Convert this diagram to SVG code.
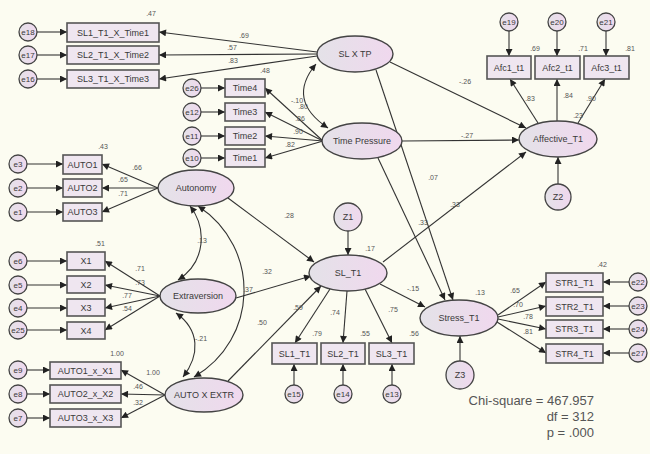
<svg xmlns="http://www.w3.org/2000/svg" width="650" height="454" viewBox="0 0 650 454">
<defs>
<linearGradient id="lg" x1="0" y1="0" x2="1" y2="0"><stop offset="0" stop-color="#e4e2e8"/><stop offset="1" stop-color="#f0d8ee"/></linearGradient>
<style>
.bg{fill:#fcfcf1}
.box{fill:#efe6f0;stroke:#555;stroke-width:1.6}
.lat{fill:url(#lg);stroke:#444;stroke-width:1.4}
.err{fill:url(#lg);stroke:#444;stroke-width:1.3}
.t{font-family:"Liberation Sans",Arial,sans-serif;font-size:9px;fill:#3a3a3a;text-anchor:middle;dominant-baseline:central}
.te{font-family:"Liberation Sans",Arial,sans-serif;font-size:8px;fill:#3a3a3a;text-anchor:middle;dominant-baseline:central}
.n{font-family:"Liberation Sans",Arial,sans-serif;font-size:7px;fill:#555;text-anchor:middle}
.fit{font-family:"Liberation Sans",Arial,sans-serif;font-size:13px;fill:#555;text-anchor:end}
.c{stroke:#333;stroke-width:1.1;fill:none}
.a{marker-end:url(#ah)}
.b{marker-start:url(#ah);marker-end:url(#ah)}
</style>
<marker id="ah" viewBox="0 0 10 10" refX="10" refY="5" markerWidth="10" markerHeight="7" markerUnits="userSpaceOnUse" orient="auto-start-reverse"><path d="M0,0 L10,5 L0,10 z" fill="#222"/></marker>
</defs>
<rect class="bg" x="0" y="0" width="650" height="454"/>

<g id="connectors">
<line class="c a" x1="317" y1="52" x2="159" y2="32"/>
<line class="c a" x1="317" y1="54" x2="159" y2="55"/>
<line class="c a" x1="317" y1="56" x2="159" y2="79"/>
<line class="c a" x1="390" y1="62" x2="526" y2="128"/>
<line class="c a" x1="376" y1="70" x2="453" y2="300"/>
<line class="c a" x1="323" y1="141" x2="265" y2="88"/>
<line class="c a" x1="323" y1="141" x2="265" y2="112"/>
<line class="c a" x1="323" y1="141" x2="265" y2="136"/>
<line class="c a" x1="323" y1="141" x2="265" y2="158"/>
<line class="c a" x1="402" y1="141" x2="519" y2="140"/>
<line class="c a" x1="378" y1="158" x2="445" y2="300"/>
<path class="c b" d="M316,64 Q286,100 328,128"/>
<line class="c a" x1="158" y1="188" x2="102" y2="164"/>
<line class="c a" x1="158" y1="188" x2="102" y2="188"/>
<line class="c a" x1="158" y1="188" x2="102" y2="212"/>
<line class="c a" x1="228" y1="198" x2="314" y2="262"/>
<line class="c a" x1="160" y1="296" x2="105" y2="261"/>
<line class="c a" x1="160" y1="296" x2="105" y2="285"/>
<line class="c a" x1="160" y1="296" x2="105" y2="308"/>
<line class="c a" x1="160" y1="296" x2="105" y2="330"/>
<line class="c a" x1="236" y1="298" x2="311" y2="276"/>
<line class="c a" x1="165" y1="395" x2="121" y2="370"/>
<line class="c a" x1="165" y1="395" x2="121" y2="394"/>
<line class="c a" x1="165" y1="395" x2="121" y2="418"/>
<line class="c a" x1="228" y1="381" x2="321" y2="286"/>
<path class="c b" d="M190,206 C207,228 206,262 178,280"/>
<path class="c b" d="M198,206 C262,248 258,340 194,377"/>
<path class="c b" d="M176,313 C200,330 200,355 183,377"/>
<line class="c a" x1="330" y1="289" x2="295" y2="343"/>
<line class="c a" x1="347" y1="291" x2="343" y2="343"/>
<line class="c a" x1="365" y1="289" x2="392" y2="343"/>
<line class="c a" x1="380" y1="284" x2="425" y2="307"/>
<line class="c a" x1="383" y1="262" x2="526" y2="152"/>
<line class="c a" x1="348" y1="231" x2="348" y2="255"/>
<line class="c a" x1="498" y1="315" x2="546" y2="282"/>
<line class="c a" x1="498" y1="317" x2="546" y2="306"/>
<line class="c a" x1="498" y1="319" x2="546" y2="329"/>
<line class="c a" x1="497" y1="322" x2="546" y2="353"/>
<line class="c a" x1="460" y1="361" x2="460" y2="336"/>
<line class="c a" x1="538" y1="123" x2="510" y2="79"/>
<line class="c a" x1="557" y1="121" x2="557" y2="79"/>
<line class="c a" x1="578" y1="123" x2="605" y2="79"/>
<line class="c a" x1="558" y1="184" x2="558" y2="157"/>
<line class="c a" x1="37" y1="32" x2="67" y2="32"/>
<line class="c a" x1="37" y1="55" x2="67" y2="55"/>
<line class="c a" x1="37" y1="79" x2="67" y2="79"/>
<line class="c a" x1="201" y1="88" x2="225" y2="88"/>
<line class="c a" x1="201" y1="112" x2="225" y2="112"/>
<line class="c a" x1="201" y1="136" x2="225" y2="136"/>
<line class="c a" x1="201" y1="158" x2="225" y2="158"/>
<line class="c a" x1="27" y1="164" x2="63" y2="164"/>
<line class="c a" x1="27" y1="188" x2="63" y2="188"/>
<line class="c a" x1="27" y1="212" x2="63" y2="212"/>
<line class="c a" x1="27" y1="261" x2="67" y2="261"/>
<line class="c a" x1="27" y1="285" x2="67" y2="285"/>
<line class="c a" x1="27" y1="308" x2="67" y2="308"/>
<line class="c a" x1="27" y1="330" x2="67" y2="330"/>
<line class="c a" x1="27" y1="370" x2="50" y2="370"/>
<line class="c a" x1="27" y1="394" x2="50" y2="394"/>
<line class="c a" x1="27" y1="418" x2="50" y2="418"/>
<line class="c a" x1="294" y1="385" x2="294" y2="364"/>
<line class="c a" x1="343" y1="385" x2="343" y2="364"/>
<line class="c a" x1="392" y1="385" x2="392" y2="364"/>
<line class="c a" x1="629" y1="282" x2="603" y2="282"/>
<line class="c a" x1="629" y1="306" x2="603" y2="306"/>
<line class="c a" x1="629" y1="329" x2="603" y2="329"/>
<line class="c a" x1="629" y1="353" x2="603" y2="353"/>
<line class="c a" x1="509" y1="31" x2="509" y2="56"/>
<line class="c a" x1="557" y1="31" x2="557" y2="56"/>
<line class="c a" x1="606" y1="31" x2="606" y2="56"/>
</g>

<g id="path-labels">
<text class="n" x="244" y="38">.69</text>
<text class="n" x="232" y="50">.57</text>
<text class="n" x="233" y="63">.83</text>
<text class="n" x="265" y="73">.48</text>
<text class="n" x="297" y="103">-.10</text>
<text class="n" x="303" y="109">.80</text>
<text class="n" x="300" y="121">.86</text>
<text class="n" x="298" y="134">.90</text>
<text class="n" x="290" y="147">.82</text>
<text class="n" x="465" y="84">-.26</text>
<text class="n" x="467" y="138">-.27</text>
<text class="n" x="433" y="180">.07</text>
<text class="n" x="423" y="225">.33</text>
<text class="n" x="455" y="207">.33</text>
<text class="n" x="535" y="51">.69</text>
<text class="n" x="583" y="51">.71</text>
<text class="n" x="630" y="51">.81</text>
<text class="n" x="530" y="101">.83</text>
<text class="n" x="568" y="98">.84</text>
<text class="n" x="591" y="101">.90</text>
<text class="n" x="578" y="118">.23</text>
<text class="n" x="151" y="16">.47</text>
<text class="n" x="103" y="149">.43</text>
<text class="n" x="137" y="170">.66</text>
<text class="n" x="123" y="182">.65</text>
<text class="n" x="123" y="196">.71</text>
<text class="n" x="100" y="246">.51</text>
<text class="n" x="140" y="271">.71</text>
<text class="n" x="140" y="285">.73</text>
<text class="n" x="127" y="298">.77</text>
<text class="n" x="127" y="311">.54</text>
<text class="n" x="202" y="243">.13</text>
<text class="n" x="201" y="341">-.21</text>
<text class="n" x="248" y="292">.37</text>
<text class="n" x="289" y="218">.28</text>
<text class="n" x="267" y="274">.32</text>
<text class="n" x="262" y="325">.50</text>
<text class="n" x="298" y="310">.59</text>
<text class="n" x="335" y="315">.74</text>
<text class="n" x="393" y="312">.75</text>
<text class="n" x="413" y="291">-.15</text>
<text class="n" x="370" y="251">.17</text>
<text class="n" x="317" y="336">.79</text>
<text class="n" x="365" y="336">.55</text>
<text class="n" x="414" y="336">.56</text>
<text class="n" x="117" y="356">1.00</text>
<text class="n" x="153" y="375">1.00</text>
<text class="n" x="138" y="389">.46</text>
<text class="n" x="138" y="405">.32</text>
<text class="n" x="480" y="295">.13</text>
<text class="n" x="602" y="267">.42</text>
<text class="n" x="515" y="293">.65</text>
<text class="n" x="518" y="307">.70</text>
<text class="n" x="528" y="319">.78</text>
<text class="n" x="528" y="334">.81</text>
</g>

<g id="SL1_T1_X_Time1"><rect class="box" x="67" y="23" width="92" height="19"/><text class="t" x="113" y="32.5">SL1_T1_X_Time1</text></g>
<g id="SL2_T1_X_Time2"><rect class="box" x="67" y="46" width="92" height="18"/><text class="t" x="113" y="55">SL2_T1_X_Time2</text></g>
<g id="SL3_T1_X_Time3"><rect class="box" x="67" y="70" width="92" height="18"/><text class="t" x="113" y="79">SL3_T1_X_Time3</text></g>
<g id="e18"><circle class="err" cx="28" cy="32" r="9"/><text class="te" x="28" y="32">e18</text></g>
<g id="e17"><circle class="err" cx="28" cy="55" r="9"/><text class="te" x="28" y="55">e17</text></g>
<g id="e16"><circle class="err" cx="28" cy="79" r="9"/><text class="te" x="28" y="79">e16</text></g>

<g id="SLXTP"><ellipse class="lat" cx="355" cy="54" rx="38" ry="18"/><text class="t" x="355" y="54">SL X TP</text></g>
<g id="TimePressure"><ellipse class="lat" cx="362" cy="141" rx="40" ry="18"/><text class="t" x="362" y="141">Time Pressure</text></g>

<g id="Time4"><rect class="box" x="225" y="79" width="40" height="18"/><text class="t" x="245" y="88">Time4</text></g>
<g id="Time3"><rect class="box" x="225" y="103" width="40" height="18"/><text class="t" x="245" y="112">Time3</text></g>
<g id="Time2"><rect class="box" x="225" y="127" width="40" height="18"/><text class="t" x="245" y="136">Time2</text></g>
<g id="Time1"><rect class="box" x="225" y="149" width="40" height="18"/><text class="t" x="245" y="158">Time1</text></g>
<g id="e26"><circle class="err" cx="192" cy="88" r="9"/><text class="te" x="192" y="88">e26</text></g>
<g id="e12"><circle class="err" cx="192" cy="112" r="9"/><text class="te" x="192" y="112">e12</text></g>
<g id="e11"><circle class="err" cx="192" cy="136" r="9"/><text class="te" x="192" y="136">e11</text></g>
<g id="e10"><circle class="err" cx="192" cy="158" r="9"/><text class="te" x="192" y="158">e10</text></g>

<g id="Affective_T1"><ellipse class="lat" cx="558" cy="139" rx="39" ry="18"/><text class="t" x="558" y="139">Affective_T1</text></g>
<g id="Afc1_t1"><rect class="box" x="487" y="56" width="44" height="23"/><text class="t" x="509" y="67.5">Afc1_t1</text></g>
<g id="Afc2_t1"><rect class="box" x="535" y="56" width="45" height="23"/><text class="t" x="557.5" y="67.5">Afc2_t1</text></g>
<g id="Afc3_t1"><rect class="box" x="584" y="56" width="45" height="23"/><text class="t" x="606.5" y="67.5">Afc3_t1</text></g>
<g id="e19"><circle class="err" cx="509" cy="22" r="9"/><text class="te" x="509" y="22">e19</text></g>
<g id="e20"><circle class="err" cx="557" cy="22" r="9"/><text class="te" x="557" y="22">e20</text></g>
<g id="e21"><circle class="err" cx="606" cy="22" r="9"/><text class="te" x="606" y="22">e21</text></g>
<g id="Z2"><circle class="err" cx="558" cy="197" r="13"/><text class="t" x="558" y="197">Z2</text></g>

<g id="Autonomy"><ellipse class="lat" cx="196" cy="188" rx="38" ry="18"/><text class="t" x="196" y="188">Autonomy</text></g>
<g id="AUTO1"><rect class="box" x="63" y="155" width="39" height="19"/><text class="t" x="82.5" y="164.5">AUTO1</text></g>
<g id="AUTO2"><rect class="box" x="63" y="179" width="39" height="18"/><text class="t" x="82.5" y="188">AUTO2</text></g>
<g id="AUTO3"><rect class="box" x="63" y="203" width="39" height="18"/><text class="t" x="82.5" y="212">AUTO3</text></g>
<g id="e3"><circle class="err" cx="18" cy="164" r="9"/><text class="te" x="18" y="164">e3</text></g>
<g id="e2"><circle class="err" cx="18" cy="188" r="9"/><text class="te" x="18" y="188">e2</text></g>
<g id="e1"><circle class="err" cx="18" cy="212" r="9"/><text class="te" x="18" y="212">e1</text></g>

<g id="Extraversion"><ellipse class="lat" cx="198" cy="296" rx="38" ry="17"/><text class="t" x="198" y="296">Extraversion</text></g>
<g id="X1"><rect class="box" x="67" y="252" width="38" height="18"/><text class="t" x="86" y="261">X1</text></g>
<g id="X2"><rect class="box" x="67" y="276" width="38" height="17"/><text class="t" x="86" y="284.5">X2</text></g>
<g id="X3"><rect class="box" x="67" y="299" width="38" height="17"/><text class="t" x="86" y="307.5">X3</text></g>
<g id="X4"><rect class="box" x="67" y="322" width="38" height="17"/><text class="t" x="86" y="330.5">X4</text></g>
<g id="e6"><circle class="err" cx="18" cy="261" r="9"/><text class="te" x="18" y="261">e6</text></g>
<g id="e5"><circle class="err" cx="18" cy="285" r="9"/><text class="te" x="18" y="285">e5</text></g>
<g id="e4"><circle class="err" cx="18" cy="308" r="9"/><text class="te" x="18" y="308">e4</text></g>
<g id="e25"><circle class="err" cx="18" cy="330" r="9"/><text class="te" x="18" y="330">e25</text></g>

<g id="AUTOXEXTR"><ellipse class="lat" cx="204" cy="395" rx="39" ry="17"/><text class="t" x="204" y="395">AUTO X EXTR</text></g>
<g id="AUTO1_x_X1"><rect class="box" x="50" y="362" width="71" height="17"/><text class="t" x="85.5" y="370.5">AUTO1_x_X1</text></g>
<g id="AUTO2_x_X2"><rect class="box" x="50" y="385" width="71" height="18"/><text class="t" x="85.5" y="394">AUTO2_x_X2</text></g>
<g id="AUTO3_x_X3"><rect class="box" x="50" y="409" width="71" height="18"/><text class="t" x="85.5" y="418">AUTO3_x_X3</text></g>
<g id="e9"><circle class="err" cx="18" cy="370" r="9"/><text class="te" x="18" y="370">e9</text></g>
<g id="e8"><circle class="err" cx="18" cy="394" r="9"/><text class="te" x="18" y="394">e8</text></g>
<g id="e7"><circle class="err" cx="18" cy="418" r="9"/><text class="te" x="18" y="418">e7</text></g>

<g id="SL_T1"><ellipse class="lat" cx="348" cy="273" rx="39" ry="18"/><text class="t" x="348" y="273">SL_T1</text></g>
<g id="Z1"><circle class="err" cx="348" cy="217" r="14"/><text class="t" x="348" y="217">Z1</text></g>
<g id="SL1_T1"><rect class="box" x="272" y="343" width="45" height="21"/><text class="t" x="294.5" y="353.5">SL1_T1</text></g>
<g id="SL2_T1"><rect class="box" x="321" y="343" width="44" height="21"/><text class="t" x="343" y="353.5">SL2_T1</text></g>
<g id="SL3_T1"><rect class="box" x="369" y="343" width="45" height="21"/><text class="t" x="391.5" y="353.5">SL3_T1</text></g>
<g id="e15"><circle class="err" cx="294" cy="394" r="9"/><text class="te" x="294" y="394">e15</text></g>
<g id="e14"><circle class="err" cx="343" cy="394" r="9"/><text class="te" x="343" y="394">e14</text></g>
<g id="e13"><circle class="err" cx="392" cy="394" r="9"/><text class="te" x="392" y="394">e13</text></g>

<g id="Stress_T1"><ellipse class="lat" cx="459" cy="318" rx="39" ry="18"/><text class="t" x="459" y="318">Stress_T1</text></g>
<g id="Z3"><circle class="err" cx="460" cy="375" r="14"/><text class="t" x="460" y="375">Z3</text></g>
<g id="STR1_T1"><rect class="box" x="546" y="273" width="57" height="19"/><text class="t" x="574.5" y="282.5">STR1_T1</text></g>
<g id="STR2_T1"><rect class="box" x="546" y="297" width="57" height="19"/><text class="t" x="574.5" y="306.5">STR2_T1</text></g>
<g id="STR3_T1"><rect class="box" x="546" y="320" width="57" height="18"/><text class="t" x="574.5" y="329">STR3_T1</text></g>
<g id="STR4_T1"><rect class="box" x="546" y="344" width="57" height="19"/><text class="t" x="574.5" y="353.5">STR4_T1</text></g>
<g id="e22"><circle class="err" cx="638" cy="282" r="9"/><text class="te" x="638" y="282">e22</text></g>
<g id="e23"><circle class="err" cx="638" cy="306" r="9"/><text class="te" x="638" y="306">e23</text></g>
<g id="e24"><circle class="err" cx="638" cy="329" r="9"/><text class="te" x="638" y="329">e24</text></g>
<g id="e27"><circle class="err" cx="638" cy="353" r="9"/><text class="te" x="638" y="353">e27</text></g>

<g id="fit">
<text class="fit" x="594" y="405">Chi-square = 467.957</text>
<text class="fit" x="594" y="421">df = 312</text>
<text class="fit" x="594" y="437">p = .000</text>
</g>
</svg>
